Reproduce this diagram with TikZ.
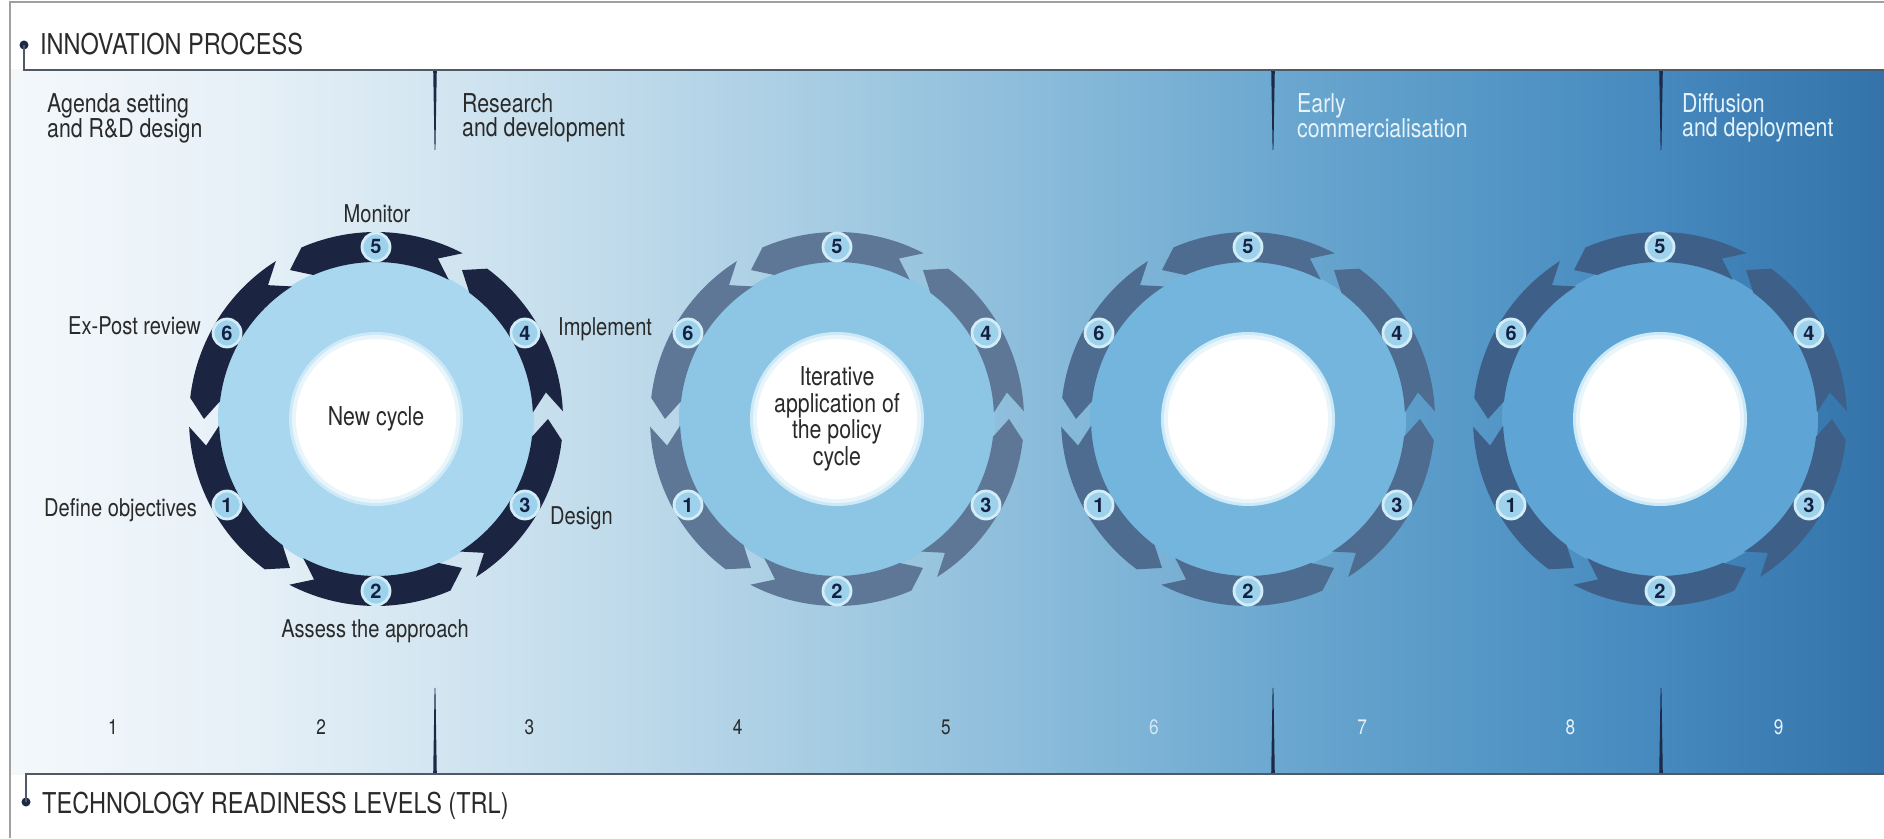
\documentclass[tikz,border=0pt]{standalone}
\usepackage{fontspec}
\setmainfont{TeX Gyre Heros}[FakeStretch=0.82]
\newfontfamily\badgefamily{TeX Gyre Heros}

% background band, left to right
\definecolor{bg0}{HTML}{F4F8FB}
\definecolor{bg1}{HTML}{E6F0F7}
\definecolor{bg2}{HTML}{D3E6F1}
\definecolor{bg3}{HTML}{BDD9EA}
\definecolor{bg4}{HTML}{A4CBE2}
\definecolor{bg5}{HTML}{89BBDA}
\definecolor{bg6}{HTML}{6CA8D0}
\definecolor{bg7}{HTML}{5698C7}
\definecolor{bg8}{HTML}{4689BE}
\definecolor{bg9}{HTML}{3373A9}
% cycles
\definecolor{arrowA}{HTML}{1B2440}
\definecolor{arrowB}{HTML}{5E7796}
\definecolor{arrowC}{HTML}{4E6C8F}
\definecolor{arrowD}{HTML}{3E6088}
\definecolor{diskA}{HTML}{A9D7EF}
\definecolor{diskB}{HTML}{8DC5E4}
\definecolor{diskC}{HTML}{74B5DD}
\definecolor{diskD}{HTML}{5EA5D5}
\definecolor{badgefill}{HTML}{9ED2EC}
\definecolor{badgering}{HTML}{D2EDF8}
\definecolor{badgetext}{HTML}{152142}
\definecolor{halo}{HTML}{CDE9F7}
% lines and text
\definecolor{rulecol}{HTML}{505A66}
\definecolor{navy}{HTML}{1C2A48}
\definecolor{framecol}{HTML}{A0A0A0}
\definecolor{darktext}{HTML}{2A2A2A}
\definecolor{lighttext}{HTML}{E6F3FB}
\definecolor{paletext}{HTML}{D3E8F4}

\newcommand\gapang{2.4}
\newcommand\tipang{6.5}

% #1 name, #2 x, #3 y, #4 arrow colour, #5 disk colour
\newcommand\policyring[5]{%
  \begin{scope}[shift={(#2,#3)}]
    \fill[#5] (0,0) circle[radius=158];
    \foreach \c in {210,270,330,30,90,150}{
      \fill[#4] (\c-30+\gapang:187)
        arc[start angle=\c-30+\gapang, end angle=\c+30-\tipang, radius=187]
        -- (\c+30:172)
        -- (\c+30-\tipang:157)
        arc[start angle=\c+30-\tipang, end angle=\c-30+\gapang, radius=157]
        -- (\c-30+\gapang+\tipang:172) -- cycle;
    }
    \fill[halo] (0,0) circle[radius=87];
    \fill[white, opacity=0.55] (0,0) circle[radius=84];
    \node[core] (#1-core) at (0,0) {};
    \foreach \n/\a in {1/210,2/270,3/330,4/30,5/90,6/150}
      \node[badge] (#1-\n) at (\a:172) {\n};
  \end{scope}}

\begin{document}
\begin{tikzpicture}[x=1pt, y=1pt,
  badge/.style={circle, fill=badgefill, draw=badgering, line width=2.8,
    minimum size=28, inner sep=0, text=badgetext,
    font={\badgefamily\bfseries\fontsize{20}{20}\selectfont}},
  core/.style={circle, fill=white, minimum size=160, inner sep=0},
  dotnode/.style={circle, fill=navy, minimum size=9, inner sep=0},
  steplabel/.style={inner sep=0, text=darktext, font={\fontsize{24.5}{24.5}\selectfont}},
  phase/.style={inner sep=0, align=left, font={\fontsize{26}{24}\selectfont}},
  trl/.style={inner sep=0, font={\fontsize{21}{21}\selectfont}},
  heading/.style={inner sep=0, text=darktext, font={\fontsize{28.7}{28.7}\selectfont}},
  centretext/.style={inner sep=0, align=center, text=darktext, font={\fontsize{26}{26.5}\selectfont}},
  divider/.style={fill=navy}]
\useasboundingbox (0,0) rectangle (1884,838);
\fill[white] (0,0) rectangle (1884,838);

% gradient band between the two rules
\foreach \xa/\ca/\xb/\cb in {10/bg0/250/bg1, 250/bg1/435/bg2, 435/bg2/640/bg3,
    640/bg3/840/bg4, 840/bg4/1050/bg5, 1050/bg5/1273/bg6, 1273/bg6/1470/bg7,
    1470/bg7/1661/bg8, 1661/bg8/1884/bg9}
  \shade[left color=\ca, right color=\cb] (\xa-0.6,64) rectangle (\xb+0.6,768);

% frame
\draw[framecol, line width=1.5] (10,0) -- (10,836) -- (1884,836);

% phase dividers (top) and TRL dividers (bottom)
\foreach \x in {435,1273,1661}{
  \fill[divider] (\x-1.8,768) -- (\x+1.8,768) -- (\x+0.4,688) -- (\x-0.4,688) -- cycle;
  \fill[divider] (\x-1.8,64) -- (\x+1.8,64) -- (\x+0.4,150) -- (\x-0.4,150) -- cycle;
}

% headings
\node[dotnode] (ipdot) at (24,793) {};
\coordinate (ipend) at (1884,768);
\draw[rulecol, line width=2] (ipdot.center) |- (ipend);
\node[heading, anchor=base west] (iptitle) at (40,783) {INNOVATION PROCESS};

\node[dotnode] (trldot) at (26,36) {};
\coordinate (trlend) at (1884,64);
\draw[rulecol, line width=2] (trldot.center) |- (trlend);
\node[heading, anchor=base west] (trltitle) at (42,25) {TECHNOLOGY READINESS LEVELS (TRL)};

% phases of the innovation process
\node[phase, text=darktext, anchor=north west] (ph1) at (47,745) {Agenda setting\\and R\&D design};
\node[phase, text=darktext, anchor=north west] (ph2) at (462,745) {Research\\and development};
\node[phase, text=lighttext, anchor=north west] (ph3) at (1297,745) {Early\\commercialisation};
\node[phase, text=lighttext, anchor=north west] (ph4) at (1682,745) {Diffusion\\and deployment};

% readiness levels
\foreach \n in {1,...,5}
  \node[trl, text=darktext] (trl\n) at ({113+208.2*(\n-1)},111) {\n};
\node[trl, text=paletext] (trl6) at ({113+208.2*5},111) {6};
\foreach \n in {7,8,9}
  \node[trl, text=lighttext] (trl\n) at ({113+208.2*(\n-1)},111) {\n};

% policy cycles
\policyring{cycA}{376}{419}{arrowA}{diskA}
\policyring{cycB}{837}{419}{arrowB}{diskB}
\policyring{cycC}{1248}{419}{arrowC}{diskC}
\policyring{cycD}{1660}{419}{arrowD}{diskD}

\node[centretext] (newcycle) at (cycA-core) {New cycle};
\node[centretext] (iterative) at (cycB-core) {Iterative\\application of\\the policy\\cycle};

% steps of the first cycle
\node[steplabel, anchor=base] (monitor) at (377,615) {Monitor};
\node[steplabel, anchor=base west] (implement) at (558,502) {Implement};
\node[steplabel, anchor=base east] (expost) at (201,503) {Ex-Post review};
\node[steplabel, anchor=base east] (define) at (197,321) {Define objectives};
\node[steplabel, anchor=base west] (design) at (550,313) {Design};
\node[steplabel, anchor=base] (assess) at (375,200) {Assess the approach};
\end{tikzpicture}
\end{document}
